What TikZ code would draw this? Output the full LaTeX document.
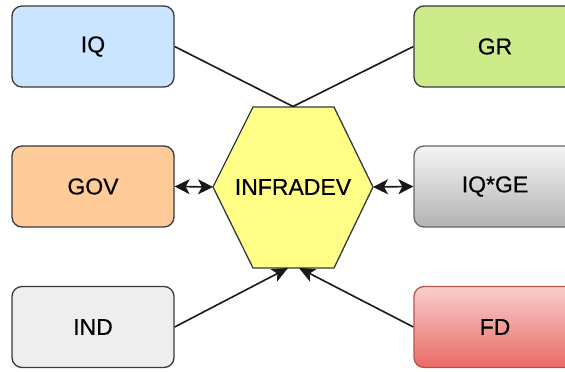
\documentclass[tikz,border=0pt]{standalone}
\usepackage{fontspec}
\setmainfont{Liberation Sans}[FakeBold=0.4]
\usetikzlibrary{arrows.meta}
\definecolor{strokeC}{HTML}{36393D}
\definecolor{blueF}{HTML}{CCE5FF}
\definecolor{greenF}{HTML}{CDEB8B}
\definecolor{orangeF}{HTML}{FFCC99}
\definecolor{grayF}{HTML}{EEEEEE}
\definecolor{yellowF}{HTML}{FFFF88}
\definecolor{gTop}{HTML}{F5F5F5}
\definecolor{gBot}{HTML}{B3B3B3}
\definecolor{gStroke}{HTML}{666666}
\definecolor{rTop}{HTML}{F8CECC}
\definecolor{rBot}{HTML}{EA6B66}
\definecolor{rStroke}{HTML}{B85450}
\tikzset{
  box/.style={draw=strokeC, line width=1.3pt, rounded corners=10pt,
    minimum width=162pt, minimum height=81pt, inner sep=0pt,
    font=\fontsize{23}{27}\selectfont, text=black},
  conn/.style={line width=1.6pt, draw=black!90},
  tip/.style={-{Stealth[length=16pt,width=14pt,inset=4pt]}},
  dtip/.style={{Stealth[length=15pt,width=15pt,inset=4pt]}-{Stealth[length=15pt,width=15pt,inset=4pt]}}
}
\begin{document}
\begin{tikzpicture}[x=1pt,y=-1pt]
\useasboundingbox (0,0) rectangle (565,372);
\node[box, fill=blueF] (iq) at (93,46.5) {IQ};
\node[box, fill=greenF] (gr) at (495,46.5) {GR};
\node[box, fill=orangeF] (gov) at (93,186.5) {GOV};
\node[box, draw=gStroke, top color=gTop, bottom color=gBot] (iqge) at (495,186.5) {IQ*GE};
\node[box, fill=grayF] (ind) at (93,327) {IND};
\node[box, draw=rStroke, top color=rTop, bottom color=rBot] (fd) at (495,327) {FD};
% hexagon
\coordinate (hL) at (213,187);
\coordinate (hR) at (373,187);
\coordinate (hT) at (293,106.5);
\coordinate (hBl) at (288,268);
\coordinate (hBr) at (299,268);
\draw[draw=strokeC, line width=1.3pt, fill=yellowF]
  (253,107) -- (334,107) -- (hR) -- (334,268) -- (253,268) -- (hL) -- cycle;
\node[font=\fontsize{23}{27}\selectfont, text=black] (infra) at (293,187) {INFRADEV};
% connectors
\draw[conn] (iq.east) -- (hT);
\draw[conn] (gr.west) -- (hT);
\draw[conn, dtip] (gov.east) -- (hL);
\draw[conn, dtip] (iqge.west) -- (hR);
\draw[conn, tip] (ind.east) -- (hBl);
\draw[conn, tip] (fd.west) -- (hBr);
\end{tikzpicture}
\end{document}
